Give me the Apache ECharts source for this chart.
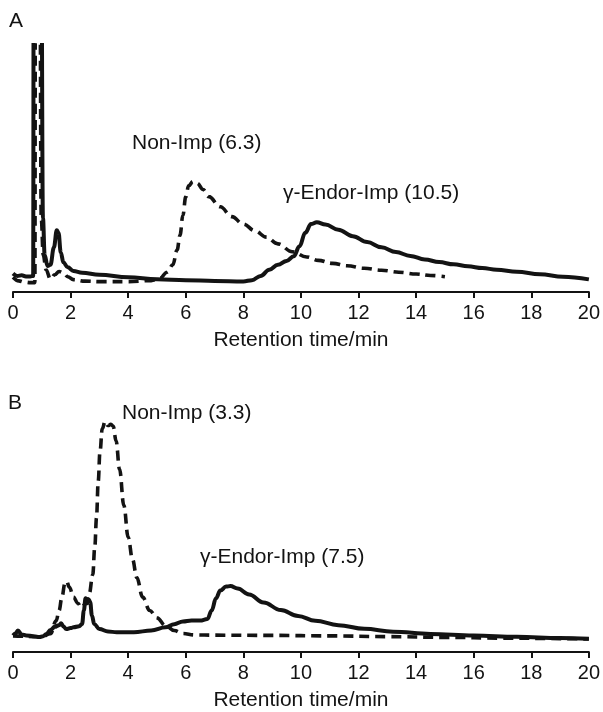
<!DOCTYPE html>
<html>
<head>
<meta charset="utf-8">
<script src="https://cdn.jsdelivr.net/npm/echarts@6/dist/echarts.min.js"></script>
<style>
html,body{margin:0;padding:0;background:#fff;}
#chart{width:603px;height:712px;}
</style>
</head>
<body>
<div id="chart"></div>
<script>
// Axis ticks
var xTicks = [0, 2, 4, 6, 8, 10, 12, 14, 16, 18, 20];

// Panel A: gamma-Endor-Imp (solid)
var aSolidT = [0, 0.15, 0.3, 0.45, 0.6, 0.7, 0.72, 0.98, 1.04, 1.1, 1.2, 1.3, 1.42, 1.52, 1.58, 1.66, 1.75, 1.9, 2.1, 2.4, 3.0, 4.0, 5.0, 6.0, 7.0, 8.0, 8.3, 8.6, 8.9, 9.2, 9.5, 9.75, 9.95, 10.15, 10.35, 10.55, 10.85, 11.3, 11.8, 12.3, 12.8, 13.3, 13.8, 14.3, 14.8, 15.3, 15.8, 16.3, 16.8, 17.5, 18.3, 19.1, 20.0];
var aSolidV = [7.5, 6.5, 6.8, 6.3, 6.3, 6.5, 150, 150, 30, 15, 10.5, 11, 18, 25, 24, 16, 12, 10, 8.5, 7.8, 7, 6, 5.2, 4.8, 4.5, 4.3, 4.8, 6.5, 9, 11, 12.6, 14.5, 18.5, 24, 27.5, 28.2, 27.3, 25.2, 22.6, 20.2, 18.1, 16.2, 14.6, 13.2, 12.1, 11.2, 10.4, 9.7, 9.0, 8.2, 7.2, 6.2, 5.1];

// Panel A: Non-Imp (dashed)
var aDashT = [0, 0.2, 0.4, 0.6, 0.76, 0.78, 0.93, 0.98, 1.05, 1.15, 1.3, 1.45, 1.6, 1.75, 1.9, 2.1, 2.5, 3.0, 4.0, 4.8, 5.1, 5.35, 5.55, 5.7, 5.8, 5.9, 6.0, 6.1, 6.25, 6.4, 6.6, 6.8, 7.2, 7.6, 8.0, 8.4, 8.8, 9.2, 9.7, 10.2, 10.6, 11.1, 11.6, 12.2, 12.8, 13.4, 14.0, 14.5, 15.0];
var aDashV = [6, 4.5, 4.0, 3.8, 3.8, 150, 150, 30, 15, 9, 5.2, 7, 8.3, 7.8, 6.2, 5, 4.4, 4.2, 4.2, 4.6, 5.5, 8, 11, 17, 23, 31, 38.5, 43, 44.7, 44, 41.5, 38.6, 34.5, 30.5, 27.5, 24.8, 22.2, 19.5, 16.3, 14.2, 12.8, 11.6, 10.6, 9.6, 8.8, 8.0, 7.3, 6.7, 6.2];

// Panel B: gamma-Endor-Imp (solid)
var bSolidT = [0, 0.08, 0.17, 0.3, 0.46, 0.7, 0.92, 1.05, 1.16, 1.3, 1.45, 1.6, 1.67, 1.75, 1.85, 2.0, 2.1, 2.3, 2.4, 2.46, 2.52, 2.58, 2.63, 2.68, 2.74, 2.82, 3.0, 3.3, 3.6, 4.2, 4.8, 5.3, 5.6, 5.9, 6.2, 6.5, 6.75, 6.9, 7.05, 7.2, 7.4, 7.55, 7.8, 8.2, 8.7, 9.3, 9.9, 10.5, 11.3, 12.2, 13.2, 14.5, 16.0, 17.5, 19.0, 20.0];
var bSolidV = [6.8, 7.5, 8.8, 7.2, 6.8, 6.5, 6.1, 6.5, 7.4, 9, 10.3, 11, 11.8, 10.5, 9.4, 9.8, 10.1, 10.6, 11.5, 17, 22, 20, 21.5, 20.5, 15, 11.5, 9.4, 8.4, 8.1, 8.1, 8.8, 10.1, 11.4, 12.5, 12.9, 12.9, 13.5, 17, 22, 25.2, 26.8, 27.0, 26, 23.6, 20.3, 17.2, 14.8, 12.8, 11, 9.5, 8.3, 7.4, 6.8, 6.2, 5.7, 5.4];

// Panel B: Non-Imp (dashed)
var bDashT = [0, 0.3, 0.7, 1.0, 1.3, 1.5, 1.6, 1.7, 1.8, 1.86, 1.96, 2.1, 2.25, 2.38, 2.5, 2.65, 2.77, 2.84, 2.9, 2.96, 3.02, 3.1, 3.2, 3.3, 3.4, 3.48, 3.58, 3.7, 3.85, 4.0, 4.15, 4.3, 4.5, 4.75, 5.0, 5.3, 5.6, 5.9, 6.3, 7, 9, 11, 13, 15, 17, 19, 20];
var bDashV = [6.6, 6.5, 6.3, 6.2, 7.5, 12.8, 17, 22.5, 28, 29, 26.5, 22.5, 20, 18.2, 19.5, 24, 31.7, 43, 55, 70, 82, 91.5, 94.5, 92.8, 93.3, 92.5, 86.5, 75, 60, 47, 38, 30.5, 22.5, 17, 14, 10.8, 8.8, 7.6, 7.0, 6.9, 6.8, 6.6, 6.3, 6.0, 5.7, 5.5, 5.3];

// Text
var axisTitle = 'Retention time/min';
var panelLabels = ['A', 'B'];
var peakLabels = ['Non-Imp (6.3)', '\u03b3-Endor-Imp (10.5)', 'Non-Imp (3.3)', '\u03b3-Endor-Imp (7.5)'];

function pairs(t, v) { return t.map(function (x, i) { return [x, v[i]]; }); }

var INK = '#131313';
var FONT = '"Liberation Sans", Arial, Helvetica, sans-serif';

function xAx(idx) {
  return {
    type: 'value', gridIndex: idx, min: 0, max: 20, interval: 2,
    axisLine: { show: true, onZero: false, lineStyle: { color: INK, width: 2 } },
    axisTick: { show: true, inside: false, length: 6, lineStyle: { color: INK, width: 2 } },
    splitLine: { show: false },
    axisLabel: { color: INK, fontSize: 20, fontFamily: FONT, margin: 11,
      formatter: function (v) { return xTicks.indexOf(v) >= 0 ? String(v) : ''; } },
    name: axisTitle, nameLocation: 'middle', nameGap: 38,
    nameTextStyle: { color: INK, fontSize: 21, fontFamily: FONT }
  };
}
function yAx(idx) {
  return { type: 'value', gridIndex: idx, min: 0, max: 100, show: false };
}
function lineSeries(idx, data, dashed) {
  return {
    type: 'line', xAxisIndex: idx, yAxisIndex: idx, data: data,
    showSymbol: false, symbol: 'none', smooth: 0.4, smoothMonotone: 'x', clip: true,
    lineStyle: { color: INK, width: dashed ? 3.6 : 4, type: dashed ? [10, 6] : 'solid', cap: 'butt', join: 'round' },
    z: dashed ? 2 : 3
  };
}

function txt(str, x, y) {
  return { type: 'text', x: x, y: y, z: 10,
    style: { text: str, fill: INK, font: '21px ' + FONT, align: 'left', verticalAlign: 'middle' } };
}

var chart = echarts.init(document.getElementById('chart'), null, { renderer: 'canvas' });
chart.setOption({
  animation: false,
  backgroundColor: '#ffffff',
  grid: [
    { left: 13, right: 13, top: 45, height: 247 },
    { left: 13, right: 13, top: 408, height: 247 }
  ],
  xAxis: [xAx(0), xAx(1)],
  yAxis: [yAx(0), yAx(1)],
  series: [
    lineSeries(0, pairs(aDashT, aDashV), true),
    lineSeries(0, pairs(aSolidT, aSolidV), false),
    lineSeries(1, pairs(bDashT, bDashV), true),
    lineSeries(1, pairs(bSolidT, bSolidV), false)
  ],
  graphic: [
    txt(panelLabels[0], 9, 21),
    txt(panelLabels[1], 8, 403),
    txt(peakLabels[0], 132, 143),
    txt(peakLabels[1], 283, 193),
    txt(peakLabels[2], 122, 413),
    txt(peakLabels[3], 200, 557)
  ]
});
</script>
</body>
</html>
